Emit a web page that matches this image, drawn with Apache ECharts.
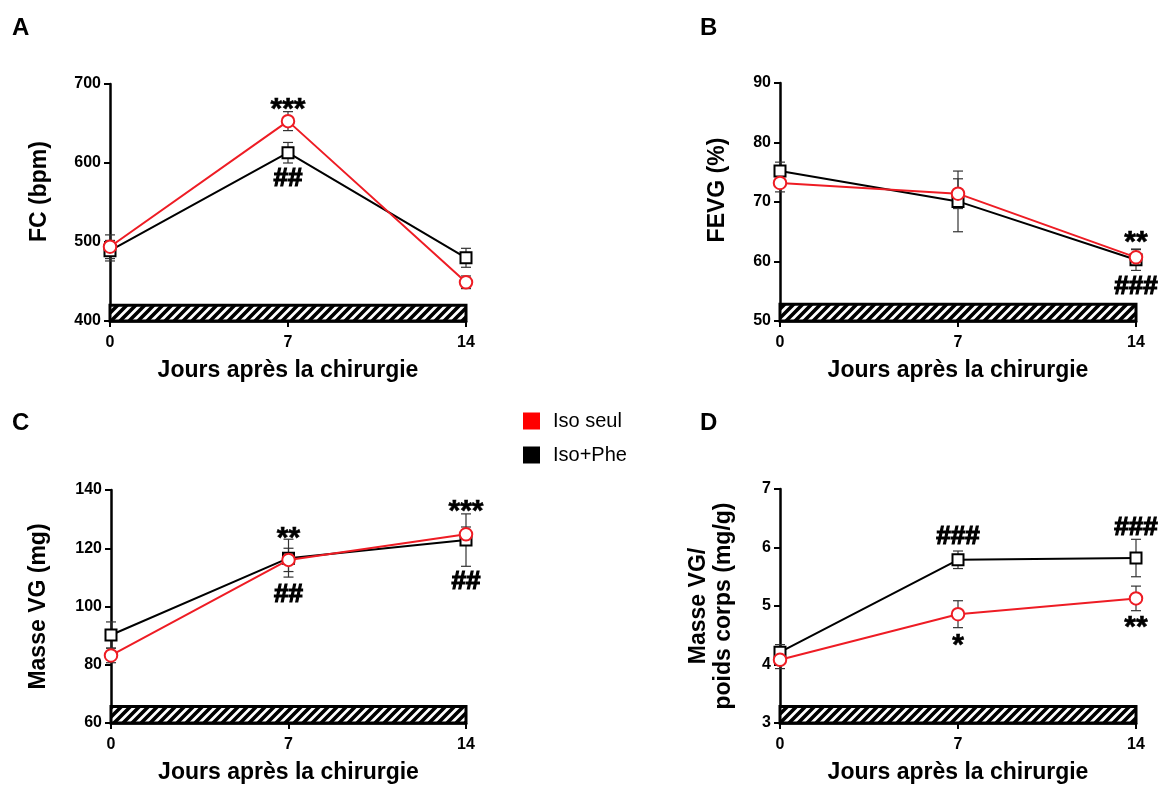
<!DOCTYPE html>
<html>
<head>
<meta charset="utf-8">
<script src="https://cdn.jsdelivr.net/npm/echarts@6/dist/echarts.min.js"></script>
<style>
html,body{margin:0;padding:0;background:#fff;}
#chart{width:1161px;height:785px;}
</style>
</head>
<body>
<div id="chart"></div>
<script>
// ---------- data ----------
const days = [0, 7, 14];
const seriesNames = ['Iso seul', 'Iso+Phe'];

// A: FC (bpm)
const fcIso = [494, 653, 449];
const fcIsoErr = [15, 12, 8];
const fcPhe = [489, 613, 480];
const fcPheErr = [13, 13, 12];
const fcTicks = [400, 500, 600, 700];

// B: FEVG (%)
const fevgIso = [73.2, 71.4, 60.7];
const fevgIsoErr = [1.5, 2.5, 1.3];
const fevgPhe = [75.2, 70.1, 60.3];
const fevgPheErr = [1.5, 5.1, 1.8];
const fevgTicks = [50, 60, 70, 80, 90];

// C: Masse VG (mg)
const masseIso = [83.2, 116.0, 124.8];
const masseIsoErr = [2.5, 4.0, 2.5];
const massePhe = [90.2, 116.6, 122.8];
const massePheErr = [4.5, 6.5, 9.0];
const masseTicks = [60, 80, 100, 120, 140];

// D: Masse VG / poids corps (mg/g)
const ratioIso = [4.08, 4.86, 5.13];
const ratioIsoErr = [0.15, 0.23, 0.21];
const ratioPhe = [4.21, 5.79, 5.82];
const ratioPheErr = [0.13, 0.15, 0.32];
const ratioTicks = [3, 4, 5, 6, 7];

// treatment period band (day start, day end) and band top value per panel
const treatmentDays = [0, 14];
const bandTops = [420, 52.8, 65.7, 3.28];

// significance marks: [day, value where drawn, text]
const sigA = [[7, 668, '***'], [7, 580, '##']];
const sigB = [[14, 63.2, '**'], [14, 55.7, '###']];
const sigC = [[7, 123.4, '**'], [7, 103.9, '##'], [14, 132.5, '***'], [14, 108.6, '##']];
const sigD = [[7, 6.18, '###'], [7, 4.32, '*'], [14, 6.34, '###'], [14, 4.63, '**']];

const yTitles = ['FC (bpm)', 'FEVG (%)', 'Masse VG (mg)', 'Masse VG/\npoids corps (mg/g)'];
const xTitle = 'Jours après la chirurgie';
const panelLetters = ['A', 'B', 'C', 'D'];

// ---------- styling / layout ----------
const RED = '#ee1c24';
const BLACK = '#000000';
const FONT = '"Liberation Sans", Arial, sans-serif';
const grids = [
  {left: 110, top: 84, width: 356, height: 237},
  {left: 780, top: 83, width: 356, height: 238},
  {left: 111, top: 490, width: 355, height: 237},
  {left: 780, top: 489, width: 356, height: 238}
];
const yNameGaps = [58, 50, 60, 44];
const yNameShift = [22, 24, 0, 0];
const letterPos = [[12, 16], [700, 16], [12, 411], [700, 411]];

// hatch pattern
const pat = document.createElement('canvas');
const PS = 9;
pat.width = PS; pat.height = PS;
(function(){
  const c = pat.getContext('2d');
  c.fillStyle = '#fff'; c.fillRect(0, 0, PS, PS);
  c.strokeStyle = '#000'; c.lineWidth = 3.6; c.lineCap = 'square';
  c.beginPath();
  c.moveTo(0, PS); c.lineTo(PS, 0);
  c.moveTo(-PS/2, PS/2); c.lineTo(PS/2, -PS/2);
  c.moveTo(PS/2, PS*1.5); c.lineTo(PS*1.5, PS/2);
  c.stroke();
})();

const panels = [
  {iso: fcIso, isoErr: fcIsoErr, phe: fcPhe, pheErr: fcPheErr, ticks: fcTicks, sig: sigA},
  {iso: fevgIso, isoErr: fevgIsoErr, phe: fevgPhe, pheErr: fevgPheErr, ticks: fevgTicks, sig: sigB},
  {iso: masseIso, isoErr: masseIsoErr, phe: massePhe, pheErr: massePheErr, ticks: masseTicks, sig: sigC},
  {iso: ratioIso, isoErr: ratioIsoErr, phe: ratioPhe, pheErr: ratioPheErr, ticks: ratioTicks, sig: sigD}
];

function errRender(params, api) {
  const x = api.value(0), m = api.value(1), e = api.value(2);
  const t = api.coord([x, m + e]), b = api.coord([x, m - e]);
  const w = 5;
  const st = {stroke: '#333', lineWidth: 1.2};
  return {type: 'group', children: [
    {type: 'line', shape: {x1: t[0], y1: t[1], x2: b[0], y2: b[1]}, style: st},
    {type: 'line', shape: {x1: t[0] - w, y1: t[1], x2: t[0] + w, y2: t[1]}, style: st},
    {type: 'line', shape: {x1: b[0] - w, y1: b[1], x2: b[0] + w, y2: b[1]}, style: st}
  ]};
}
function bandRender(params, api) {
  const p0 = api.coord([api.value(0), api.value(3)]);
  const p1 = api.coord([api.value(1), api.value(2)]);
  return {type: 'rect',
    shape: {x: p0[0], y: p0[1], width: p1[0] - p0[0], height: p1[1] - p0[1]},
    style: {fill: {image: pat, repeat: 'repeat'}, stroke: '#000', lineWidth: 3}};
}

const xAxes = [], yAxes = [], series = [], graphics = [];
panels.forEach((p, i) => {
  const tk = p.ticks;
  xAxes.push({
    type: 'value', gridIndex: i, min: 0, max: 14, interval: 7,
    axisLine: {show: true, onZero: false, lineStyle: {color: '#000', width: 2.5}},
    axisTick: {show: true, length: 6, lineStyle: {color: '#000', width: 2}},
    splitLine: {show: false},
    axisLabel: {color: '#000', fontSize: 16, fontWeight: 'bold', fontFamily: FONT, margin: 14},
    name: xTitle, nameLocation: 'middle', nameGap: 38,
    nameTextStyle: {color: '#000', fontSize: 23, fontWeight: 'bold', fontFamily: FONT}
  });
  yAxes.push({
    type: 'value', gridIndex: i, min: tk[0], max: tk[tk.length - 1], interval: tk[1] - tk[0],
    axisLine: {show: true, onZero: false, lineStyle: {color: '#000', width: 2.5}},
    axisTick: {show: true, length: 6, lineStyle: {color: '#000', width: 2}},
    splitLine: {show: false},
    axisLabel: {color: '#000', fontSize: 16, fontWeight: 'bold', fontFamily: FONT, margin: 9},
    name: yTitles[i], nameLocation: 'middle', nameGap: yNameGaps[i],
    nameTextStyle: {color: '#000', fontSize: 23, fontWeight: 'bold', fontFamily: FONT,
      lineHeight: 25, padding: [0, 0, 0, yNameShift[i]]}
  });
  series.push({
    type: 'custom', xAxisIndex: i, yAxisIndex: i, z: 1, silent: true,
    renderItem: bandRender,
    data: [[treatmentDays[0], treatmentDays[1], tk[0], bandTops[i]]]
  });
  series.push({
    type: 'custom', xAxisIndex: i, yAxisIndex: i, z: 2, silent: true,
    renderItem: errRender, encode: {x: 0, y: 1},
    data: days.map((d, k) => [d, p.phe[k], p.pheErr[k]]).concat(days.map((d, k) => [d, p.iso[k], p.isoErr[k]]))
  });
  series.push({
    name: seriesNames[1], type: 'line', xAxisIndex: i, yAxisIndex: i, z: 3,
    data: days.map((d, k) => [d, p.phe[k]]),
    symbol: 'rect', symbolSize: 11, showAllSymbol: true,
    lineStyle: {color: BLACK, width: 2},
    itemStyle: {color: '#fff', borderColor: BLACK, borderWidth: 2},
    emphasis: {disabled: true}
  });
  series.push({
    name: seriesNames[0], type: 'line', xAxisIndex: i, yAxisIndex: i, z: 4,
    data: days.map((d, k) => [d, p.iso[k]]),
    symbol: 'circle', symbolSize: 12.5, showAllSymbol: true,
    lineStyle: {color: RED, width: 2},
    itemStyle: {color: '#fff', borderColor: RED, borderWidth: 2},
    emphasis: {disabled: true}
  });
  series.push({
    type: 'scatter', xAxisIndex: i, yAxisIndex: i, z: 5, silent: true,
    symbolSize: 0,
    itemStyle: {color: '#000', opacity: 1},
    data: p.sig.map(s => {
      const isStar = s[2].indexOf('*') >= 0;
      return {
        value: [s[0], s[1]], name: s[2],
        label: {show: true, position: 'inside', formatter: '{b}',
          color: '#000', opacity: 1, fontFamily: FONT, fontWeight: 'bold',
          fontSize: isStar ? 30 : 26,
          textBorderColor: '#000', textBorderWidth: isStar ? 0.6 : 1.2}
      };
    })
  });
  graphics.push({type: 'text', left: letterPos[i][0], top: letterPos[i][1],
    style: {text: panelLetters[i], font: 'bold 24px ' + FONT, fill: '#000'}});
});

const option = {
  animation: false,
  backgroundColor: '#fff',
  grid: grids.map(g => Object.assign({containLabel: false}, g)),
  xAxis: xAxes,
  yAxis: yAxes,
  legend: {
    orient: 'vertical', left: 523, top: 411, padding: 0,
    itemWidth: 17, itemHeight: 17, itemGap: 14,
    selectedMode: false,
    textStyle: {color: '#000', fontSize: 20, fontFamily: FONT, padding: [0, 0, 0, 8]},
    data: [
      {name: seriesNames[0], icon: 'rect', itemStyle: {color: '#ff0000', borderWidth: 0}},
      {name: seriesNames[1], icon: 'rect', itemStyle: {color: '#000000', borderWidth: 0}}
    ]
  },
  graphic: graphics,
  series: series
};

const chart = echarts.init(document.getElementById('chart'), null, {renderer: 'canvas'});
chart.setOption(option);
</script>
</body>
</html>
